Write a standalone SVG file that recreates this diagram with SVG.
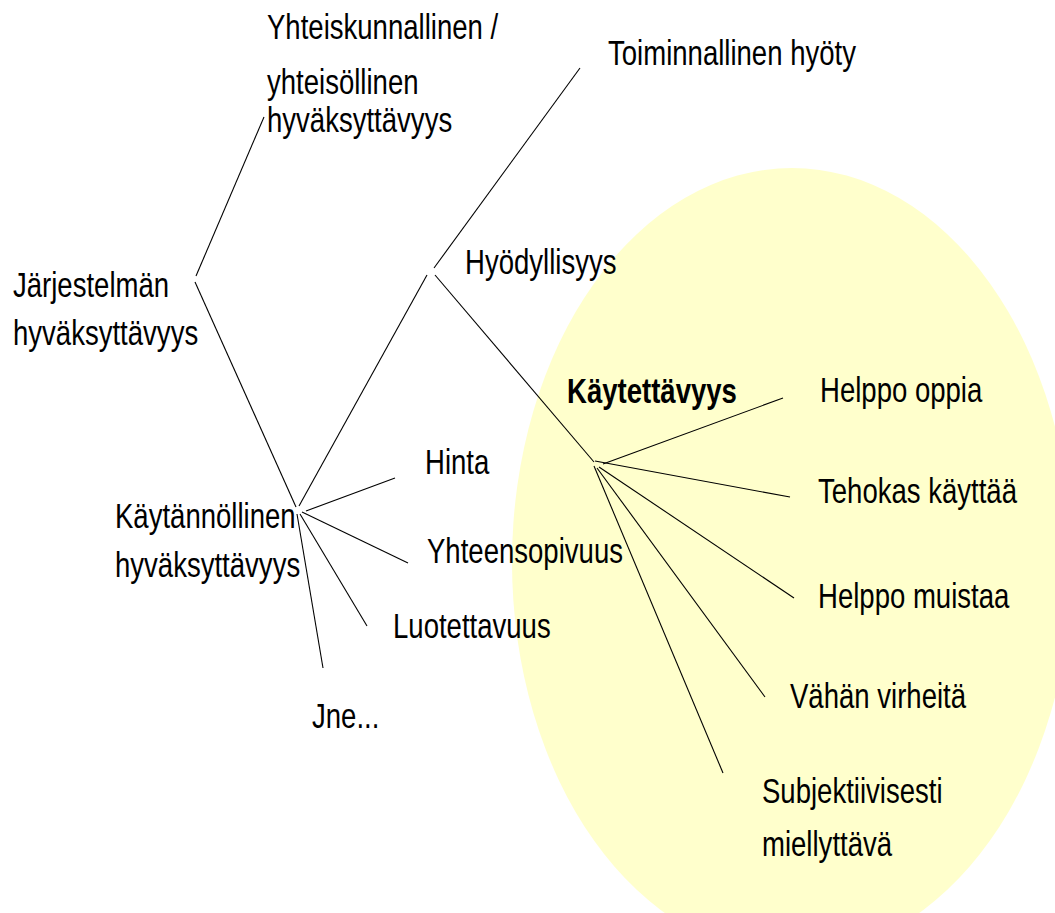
<svg xmlns="http://www.w3.org/2000/svg" width="1055" height="913" viewBox="0 0 1055 913">
<style>
.t{font-family:"Liberation Sans",Arial,sans-serif;font-size:36px;fill:#000;}
.b{font-weight:bold;}
.c line{stroke:#000;stroke-width:1.1;fill:none;}
</style>
<rect width="1055" height="913" fill="#fff"/>
<ellipse id="kaytettavyys-alue" cx="792" cy="562" rx="280" ry="394" fill="#FFFFCC"/>
<g class="c" id="connectors">
<line x1="196" y1="276" x2="264" y2="117"/>
<line x1="195" y1="282" x2="296" y2="507"/>
<line x1="299" y1="506" x2="427" y2="275"/>
<line x1="434" y1="268" x2="580" y2="68"/>
<line x1="435" y1="275" x2="594" y2="462"/>
<line x1="306" y1="511" x2="395" y2="478"/>
<line x1="302" y1="512" x2="408" y2="563"/>
<line x1="300" y1="514" x2="367" y2="626"/>
<line x1="297" y1="514" x2="323" y2="668"/>
<line x1="603" y1="464" x2="783" y2="398"/>
<line x1="595" y1="461" x2="790" y2="497"/>
<line x1="599" y1="467" x2="794" y2="598"/>
<line x1="597" y1="468" x2="765" y2="697"/>
<line x1="594" y1="466" x2="723" y2="773"/>
</g>
<g id="n-yhteiskunnallinen">
<text class="t" transform="translate(267 39) scale(.765 1)">Yhteiskunnallinen /</text>
<text class="t" transform="translate(267 94) scale(.765 1)">yhteisöllinen</text>
<text class="t" transform="translate(267 132) scale(.765 1)">hyväksyttävyys</text>
</g>
<g id="n-toiminnallinen">
<text class="t" transform="translate(608 65) scale(.765 1)">Toiminnallinen hyöty</text>
</g>
<g id="n-jarjestelma">
<text class="t" transform="translate(13 297) scale(.765 1)">Järjestelmän</text>
<text class="t" transform="translate(13 345) scale(.765 1)">hyväksyttävyys</text>
</g>
<g id="n-hyodyllisyys">
<text class="t" transform="translate(465 274) scale(.765 1)">Hyödyllisyys</text>
</g>
<g id="n-kaytettavyys">
<text class="t b" transform="translate(567 403) scale(.765 1)">Käytettävyys</text>
</g>
<g id="n-kaytannollinen">
<text class="t" transform="translate(115 528) scale(.765 1)">Käytännöllinen</text>
<text class="t" transform="translate(115 577) scale(.765 1)">hyväksyttävyys</text>
</g>
<g id="n-hinta">
<text class="t" transform="translate(425 474) scale(.765 1)">Hinta</text>
</g>
<g id="n-yhteensopivuus">
<text class="t" transform="translate(427 563) scale(.765 1)">Yhteensopivuus</text>
</g>
<g id="n-luotettavuus">
<text class="t" transform="translate(393 638) scale(.765 1)">Luotettavuus</text>
</g>
<g id="n-jne">
<text class="t" transform="translate(312 728) scale(.765 1)">Jne...</text>
</g>
<g id="n-helppo-oppia">
<text class="t" transform="translate(820 402) scale(.765 1)">Helppo oppia</text>
</g>
<g id="n-tehokas">
<text class="t" transform="translate(818 503) scale(.765 1)">Tehokas käyttää</text>
</g>
<g id="n-helppo-muistaa">
<text class="t" transform="translate(818 608) scale(.765 1)">Helppo muistaa</text>
</g>
<g id="n-vahan-virheita">
<text class="t" transform="translate(790 708) scale(.765 1)">Vähän virheitä</text>
</g>
<g id="n-subjektiivisesti">
<text class="t" transform="translate(762 803) scale(.765 1)">Subjektiivisesti</text>
<text class="t" transform="translate(762 856) scale(.765 1)">miellyttävä</text>
</g>
</svg>
